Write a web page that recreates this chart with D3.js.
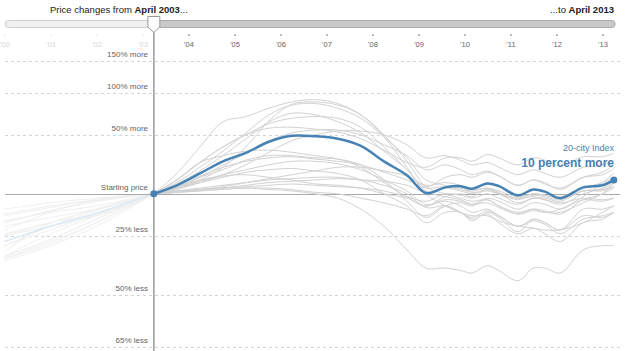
<!DOCTYPE html>
<html>
<head>
<meta charset="utf-8">
<script src="https://cdn.jsdelivr.net/npm/d3@7"></script>
<style>
  body { margin: 0; background: #fff; }
  svg { display: block; font-family: Helvetica, Arial, "Liberation Sans", sans-serif; }
</style>
</head>
<body>
<div id="chart"></div>
<script>
// months for the faint part before the start date, and for the main part
const beforeDates = ["2000-01", "2001-01", "2002-01", "2003-04"];
const afterDates = ["2003-04", "2003-10", "2004-04", "2004-10", "2005-04", "2005-10", "2006-04", "2006-10",
  "2007-04", "2007-10", "2008-04", "2008-10", "2009-03", "2009-08", "2009-12", "2010-03", "2010-07",
  "2010-10", "2011-03", "2011-07", "2011-10", "2012-02", "2012-08", "2013-01", "2013-04"];

// percent change from April 2003
const indexBefore = [-28, -20, -12.5, 0];
const indexAfter = [0, 6, 15, 25, 32.5, 43, 49, 48.5, 46, 39, 25, 13.5, 0.5, 4.5, 5.4, 3.5, 7.4, 5.4, -1, 3, 1.5, -3, 4.5, 6, 10];

const cityNames = ["Las Vegas", "Phoenix", "Miami", "Tampa", "Los Angeles", "Washington", "San Diego", "Portland",
  "Seattle", "San Francisco", "New York", "Chicago", "Minneapolis", "Boston", "Charlotte", "Dallas",
  "Denver", "Atlanta", "Cleveland", "Detroit"];

const cityBefore = [
  [-25, -20, -14, 0], [-17, -12, -8, 0], [-36, -28, -18, 0], [-30, -22, -13, 0], [-36, -29, -18, 0],
  [-35, -27, -16, 0], [-37, -30, -20, 0], [-20, -15, -10, 0], [-24, -18, -10, 0], [-33, -18, -14, 0],
  [-35, -27, -16, 0], [-25, -18, -10, 0], [-30, -20, -11, 0], [-35, -24, -14, 0], [-10, -6, -3, 0],
  [-13, -8, -4, 0], [-22, -12, -4, 0], [-18, -11, -5, 0], [-14, -9, -4, 0], [-18, -11, -5, 0]
];

const cityAfter = [
  [0, 15, 38, 64, 70, 80, 88, 91, 86, 72, 48, 20, 0, -8, -12, -14, -14, -17, -20, -21, -22, -22, -18, -12, -8],
  [0, 4, 10, 20, 38, 65, 85, 88, 84, 72, 50, 25, 5, 0, -3, -5, -4, -8, -12, -10, -12, -10, -2, 8, 15],
  [0, 8, 20, 34, 52, 72, 84, 86, 80, 68, 48, 28, 10, 6, 4, 2, 4, 1, -3, 0, -1, -2, 4, 8, 12],
  [0, 7, 17, 30, 46, 64, 74, 72, 64, 52, 34, 18, 2, -2, -4, -7, -6, -9, -13, -11, -12, -12, -6, 0, 4],
  [0, 10, 24, 38, 50, 62, 68, 70, 68, 58, 38, 18, 5, 12, 14, 12, 16, 13, 6, 10, 8, 3, 12, 16, 22],
  [0, 10, 24, 38, 50, 57, 58, 56, 53, 46, 35, 24, 20, 28, 28, 25, 31, 28, 22, 28, 26, 21, 29, 29, 32],
  [0, 10, 24, 30, 34, 35, 33, 30, 27, 20, 8, -2, -8, -2, 0, -2, 3, 0, -6, -3, -4, -7, 0, 4, 9],
  [0, 3, 8, 14, 22, 33, 44, 50, 54, 54, 50, 40, 28, 30, 26, 22, 24, 20, 14, 18, 15, 12, 20, 22, 26],
  [0, 5, 12, 22, 32, 44, 52, 55, 55, 50, 40, 30, 18, 22, 18, 14, 17, 13, 6, 10, 7, 4, 12, 14, 19],
  [0, 4, 12, 18, 26, 30, 30, 28, 27, 22, 10, -5, -15, -8, -6, -8, -4, -8, -13, -10, -11, -13, -4, 0, 8],
  [0, 6, 13, 20, 25, 28, 29, 27, 25, 22, 16, 10, 4, 5, 3, 1, 2, 0, -3, -2, -4, -6, -3, -4, -3],
  [0, 4, 9, 14, 18, 22, 25, 25, 23, 18, 10, 2, -7, -5, -8, -12, -10, -14, -20, -17, -19, -24, -16, -14, -12],
  [0, 4, 8, 12, 16, 18, 19, 17, 15, 10, 0, -8, -18, -12, -12, -17, -12, -15, -23, -16, -18, -22, -10, -10, -8],
  [0, 5, 10, 13, 14, 12, 10, 7, 6, 4, 0, -3, -8, -4, -5, -7, -3, -5, -10, -6, -7, -10, -4, -5, -3],
  [0, 1, 3, 5, 8, 11, 14, 17, 20, 20, 17, 13, 6, 8, 6, 3, 4, 2, -2, 0, -1, -3, 2, 3, 5],
  [0, 1, 2, 4, 6, 8, 9, 10, 11, 10, 9, 6, 1, 4, 2, 0, 3, 0, -4, -1, -2, -4, 2, 3, 8],
  [0, 2, 3, 4, 5, 6, 7, 6, 5, 4, 2, -2, -5, 0, -1, -3, 0, -3, -7, -3, -3, -5, 2, 2, 5],
  [0, 2, 4, 6, 8, 10, 11, 12, 12, 10, 6, 0, -9, -8, -12, -16, -13, -18, -24, -21, -24, -28, -18, -16, -12],
  [0, 1, 2, 3, 4, 4, 3, 1, 0, -3, -6, -10, -14, -8, -12, -15, -11, -14, -20, -16, -18, -22, -14, -15, -12],
  [0, 2, 3, 4, 4, 3, 2, 0, -3, -10, -20, -32, -40, -40, -41, -42, -39, -41, -45, -40, -40, -42, -32, -30, -30]
];

const yTickValues = [150, 100, 50, 0, -25, -50, -65];
const yTickLabels = ["150% more", "100% more", "50% more", "Starting price", "25% less", "50% less", "65% less"];
const yearTicks = [2000, 2001, 2002, 2003, 2004, 2005, 2006, 2007, 2008, 2009, 2010, 2011, 2012, 2013];

const width = 625, height = 351;
const parseMonth = d3.timeParse("%Y-%m");
const startDate = parseMonth("2003-04");

const svg = d3.select("#chart").append("svg")
  .attr("width", width)
  .attr("height", height);

const x = d3.scaleTime()
  .domain([new Date(2000, 0, 1), new Date(2013, 0, 1)])
  .range([4.5, 602.5]);

const y = d3.scaleLog()
  .domain([0.35, 2.5])
  .range([346.5, 60.5]);

const toPoints = (dates, vals) => dates.map((d, i) => ({ date: parseMonth(d), v: 1 + vals[i] / 100 }));

const line = d3.line()
  .x(d => x(d.date))
  .y(d => y(d.v))
  .curve(d3.curveCatmullRom.alpha(0.5));

// gridlines
svg.append("g")
  .selectAll("line")
  .data(yTickValues.filter(v => v !== 0))
  .join("line")
  .attr("x1", 5).attr("x2", 620)
  .attr("y1", d => Math.round(y(1 + d / 100)) + 0.5)
  .attr("y2", d => Math.round(y(1 + d / 100)) + 0.5)
  .attr("stroke", "#d4d4d4")
  .attr("stroke-dasharray", "3,3");

// faint lines before the start date
const before = svg.append("g");
before.selectAll("path")
  .data(cityBefore)
  .join("path")
  .attr("d", d => line(toPoints(beforeDates, d)))
  .attr("fill", "none")
  .attr("stroke", "#f0f0f0")
  .attr("stroke-width", 1);

before.append("path")
  .attr("d", line(toPoints(beforeDates, indexBefore)))
  .attr("fill", "none")
  .attr("stroke", "#dde8f3")
  .attr("stroke-width", 1.5);

// zero line
svg.append("line")
  .attr("x1", 5).attr("x2", 620)
  .attr("y1", Math.round(y(1)) + 0.5).attr("y2", Math.round(y(1)) + 0.5)
  .attr("stroke", "#aaa");

// city lines
svg.append("g")
  .selectAll("path")
  .data(cityAfter)
  .join("path")
  .attr("d", d => line(toPoints(afterDates, d)))
  .attr("fill", "none")
  .attr("stroke", "#d2d2d2")
  .attr("stroke-width", 1);

// y labels
svg.append("g")
  .selectAll("text")
  .data(yTickValues)
  .join("text")
  .attr("x", 148)
  .attr("y", d => y(1 + d / 100) - 3.5)
  .attr("text-anchor", "end")
  .attr("font-size", 8)
  .attr("fill", "#666")
  .text((d, i) => yTickLabels[i]);

// vertical start line
svg.append("line")
  .attr("x1", x(startDate)).attr("x2", x(startDate))
  .attr("y1", 30).attr("y2", height)
  .attr("stroke", "#9a9a9a")
  .attr("stroke-width", 1.5);

// index line
const indexPts = toPoints(afterDates, indexAfter);
svg.append("path")
  .attr("d", line(indexPts))
  .attr("fill", "none")
  .attr("stroke", "#4682b4")
  .attr("stroke-width", 2.5);

svg.selectAll(".dot")
  .data([indexPts[0], indexPts[indexPts.length - 1]])
  .join("circle")
  .attr("class", "dot")
  .attr("cx", d => x(d.date))
  .attr("cy", d => y(d.v))
  .attr("r", 3.5)
  .attr("fill", "#4682b4");

const last = indexPts[indexPts.length - 1];
svg.append("text")
  .attr("x", 614).attr("y", 150.5)
  .attr("text-anchor", "end")
  .attr("font-size", 9)
  .attr("fill", "#4682b4")
  .text("20-city Index");
svg.append("text")
  .attr("x", 614).attr("y", 167)
  .attr("text-anchor", "end")
  .attr("font-size", 12)
  .attr("font-weight", "bold")
  .attr("fill", "#4682b4")
  .text(`${Math.round((last.v - 1) * 100)} percent more`);

// year axis
const xAxis = svg.append("g")
  .attr("transform", "translate(0,34)")
  .call(d3.axisBottom(x)
    .tickValues(yearTicks.map(yr => new Date(yr, 0, 1)))
    .tickSize(2)
    .tickPadding(5.5)
    .tickFormat(d => "'" + d3.timeFormat("%y")(d)));
xAxis.select(".domain").remove();
xAxis.selectAll(".tick line").attr("stroke", d => d < startDate ? "#e4e4e4" : "#777");
xAxis.selectAll(".tick text")
  .attr("font-size", 7.5)
  .attr("font-family", null)
  .attr("fill", d => d < startDate ? "#d8d8d8" : "#666");

// slider
const slider = svg.append("g");
slider.append("rect")
  .attr("x", 5).attr("y", 20.5).attr("width", 610).attr("height", 7)
  .attr("rx", 3.5)
  .attr("fill", "#efefef").attr("stroke", "#cfcfcf");
slider.append("rect")
  .attr("x", x(startDate)).attr("y", 20.5).attr("width", 615 - x(startDate)).attr("height", 7)
  .attr("rx", 3.5)
  .attr("fill", "#c9c9c9").attr("stroke", "#aaa");
const hx = x(startDate);
slider.append("path")
  .attr("d", `M${hx - 6},16.5 L${hx + 6},16.5 L${hx + 6},27 L${hx},32.5 L${hx - 6},27 Z`)
  .attr("fill", "#fdfdfd")
  .attr("stroke", "#999");

// headings
const t1 = svg.append("text").attr("x", 50).attr("y", 12.5).attr("font-size", 9.5).attr("fill", "#222");
t1.append("tspan").text("Price changes from ");
t1.append("tspan").attr("font-weight", "bold").text("April 2003");
t1.append("tspan").text("...");

const t2 = svg.append("text").attr("x", 614).attr("y", 12.5).attr("text-anchor", "end").attr("font-size", 9.5).attr("fill", "#222");
t2.append("tspan").text("...to ");
t2.append("tspan").attr("font-weight", "bold").text("April 2013");
</script>
</body>
</html>
